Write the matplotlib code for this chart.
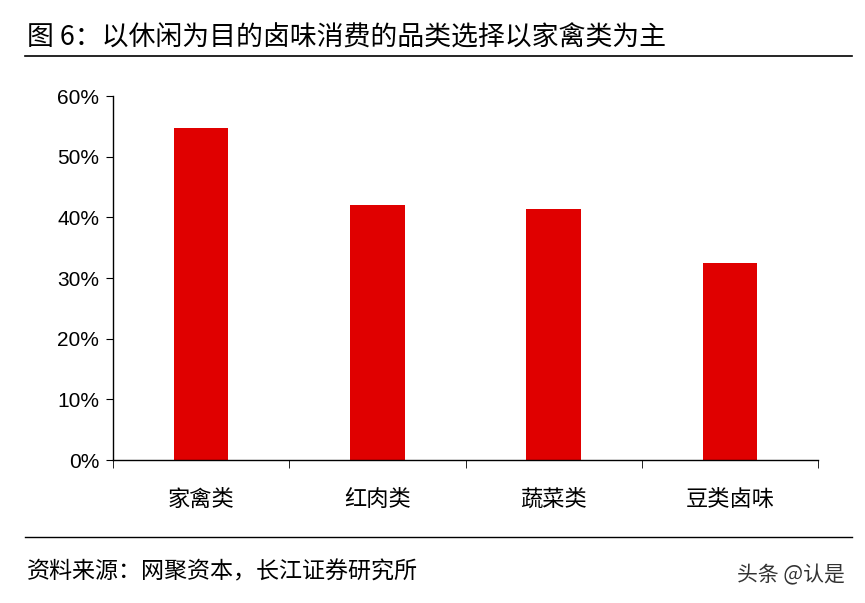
import matplotlib
matplotlib.use("Agg")
import matplotlib.pyplot as plt
from matplotlib.lines import Line2D

plt.rcParams['font.family'] = ['Noto Sans CJK SC', 'DejaVu Sans']

categories = ["家禽类", "红肉类", "蔬菜类", "豆类卤味"]
values = [54.7, 42.0, 41.4, 32.5]
yticks = [0, 10, 20, 30, 40, 50, 60]

fig = plt.figure(figsize=(8.65, 6.03), dpi=100)
W, H = 865, 603
ax = fig.add_axes([113/W, 1-460/H, 705/W, 364/H])
x = list(range(len(categories)))
ax.bar(x, values, width=0.31, color="#e00000")
ax.set_xlim(-0.5, len(categories)-0.5)
ax.set_ylim(0, 60)
ax.set_yticks(yticks)
ax.set_yticklabels([f"{v}%" for v in yticks], fontsize=15, family=['Liberation Sans', 'DejaVu Sans'])
ax.set_xticks(x)
ax.set_xticklabels(categories, fontsize=16)
ax.tick_params(axis='x', length=0, pad=20)
ax.set_xticks([i - 0.5 for i in range(len(categories)+1)], minor=True)
ax.tick_params(axis='x', which='minor', length=6, direction='out')
ax.tick_params(axis='y', length=5, direction='out', pad=5)
for s in ['top', 'right']:
    ax.spines[s].set_visible(False)
for s in ['left', 'bottom']:
    ax.spines[s].set_linewidth(1.0)

fig.text(27/W, 1-38/H, "图 6：以休闲为目的卤味消费的品类选择以家禽类为主", fontsize=19.4, va='center')
fig.add_artist(Line2D([25/W, 852/W], [1-56/H, 1-56/H], color='black', lw=1.2))
fig.add_artist(Line2D([25/W, 852/W], [1-537/H, 1-537/H], color='black', lw=1.0))
fig.text(27/W, 1-572/H, "资料来源：网聚资本，长江证券研究所", fontsize=16.6, va='center')
fig.text(845/W, 1-575/H, "头条 @认是", fontsize=15, va='center', ha='right', color='#333333')
fig.savefig("out.png", dpi=100)
